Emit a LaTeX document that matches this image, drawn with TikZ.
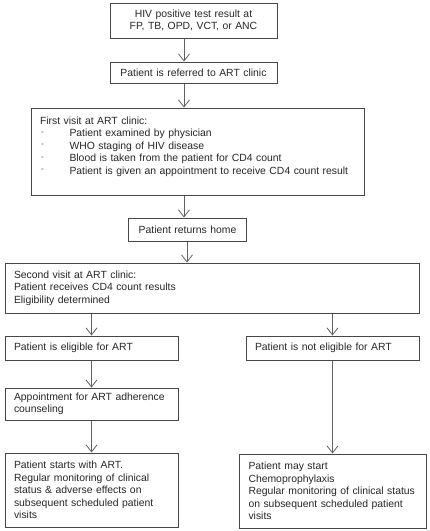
\documentclass[tikz,border=0pt]{standalone}
\usepackage{fontspec}
\setmainfont{Liberation Sans}
\usetikzlibrary{arrows.meta}

\newcommand{\stepmark}{\hspace*{1.5pt}\makebox[28pt][l]{\raisebox{2.5pt}{\fontsize{7.5}{7.5}\selectfont -}}}

\begin{document}
\begin{tikzpicture}[x=1pt, y=-1pt,
    box/.style={draw=black!72, line width=1pt, text=black!85, inner xsep=9pt, inner ysep=0pt,
        font=\fontsize{10.4}{12.5}\selectfont},
    flow/.style={draw=black!62, line width=0.8pt, -{Straight Barb[length=7pt,width=11pt]}}]
    \useasboundingbox (0,0) rectangle (430,531);

    % Define positions of the boxes
    \node[box, align=center, text width=149pt, minimum height=35pt] (hiv) at (193.5,20.5) {HIV positive test result at\\FP, TB, OPD, VCT, or ANC};
    \node[box, align=center, text width=149pt, minimum height=21pt] (referred) at (193.5,72.5) {Patient is referred to ART clinic};
    \node[box, align=left, text width=315pt, minimum height=87pt] (firstvisit) at (197.5,151.5) {First visit at ART clinic:\\
        \stepmark Patient examined by physician\\
        \stepmark WHO staging of HIV disease\\
        \stepmark Blood is taken from the patient for CD4 count\\
        \stepmark Patient is given an appointment to receive CD4 count result\\
        \mbox{}};
    \node[box, align=center, text width=100pt, minimum height=23pt] (home) at (187.5,229.5) {Patient returns home};
    \node[box, align=left, text width=396pt, minimum height=50pt] (secondvisit) at (212,288) {Second visit at ART clinic:\\Patient receives CD4 count results\\Eligibility determined};
    \node[box, align=left, text width=155pt, minimum height=24pt] (eligible) at (91.5,348) {Patient is eligible for ART};
    \node[box, align=left, text width=155pt, minimum height=24pt] (noteligible) at (332.5,348) {Patient is not eligible for ART};
    \node[box, align=left, text width=155pt, minimum height=32pt] (counsel) at (91.5,404) {Appointment for ART adherence\\counseling};
    \node[box, align=left, text width=155pt, minimum height=74pt] (startart) at (91.5,490) {Patient starts with ART.\\Regular monitoring of clinical\\status \& adverse effects on\\subsequent scheduled patient\\visits};
    \node[box, align=left, text width=169pt, minimum height=74pt] (chemo) at (333,491) {Patient may start\\Chemoprophylaxis\\Regular monitoring of clinical status\\on subsequent scheduled patient\\visits};

    % arrows between the boxes
    \coordinate (axis) at (184,0);
    \coordinate (homeaxis) at (187,0);
    \draw[flow] (hiv.south -| axis) -- (referred.north -| axis);
    \draw[flow] (referred.south -| axis) -- (firstvisit.north -| axis);
    \draw[flow] (firstvisit.south -| axis) -- (home.north -| axis);
    \draw[flow] (home.south -| homeaxis) -- (secondvisit.north -| homeaxis);
    \draw[flow] (secondvisit.south -| eligible) -- (eligible.north);
    \draw[flow] (secondvisit.south -| noteligible) -- (noteligible.north);
    \draw[flow] (eligible.south) -- (counsel.north);
    \draw[flow] (counsel.south) -- (startart.north);
    \draw[flow] (noteligible.south) -- (noteligible.south |- chemo.north);
\end{tikzpicture}
\end{document}
